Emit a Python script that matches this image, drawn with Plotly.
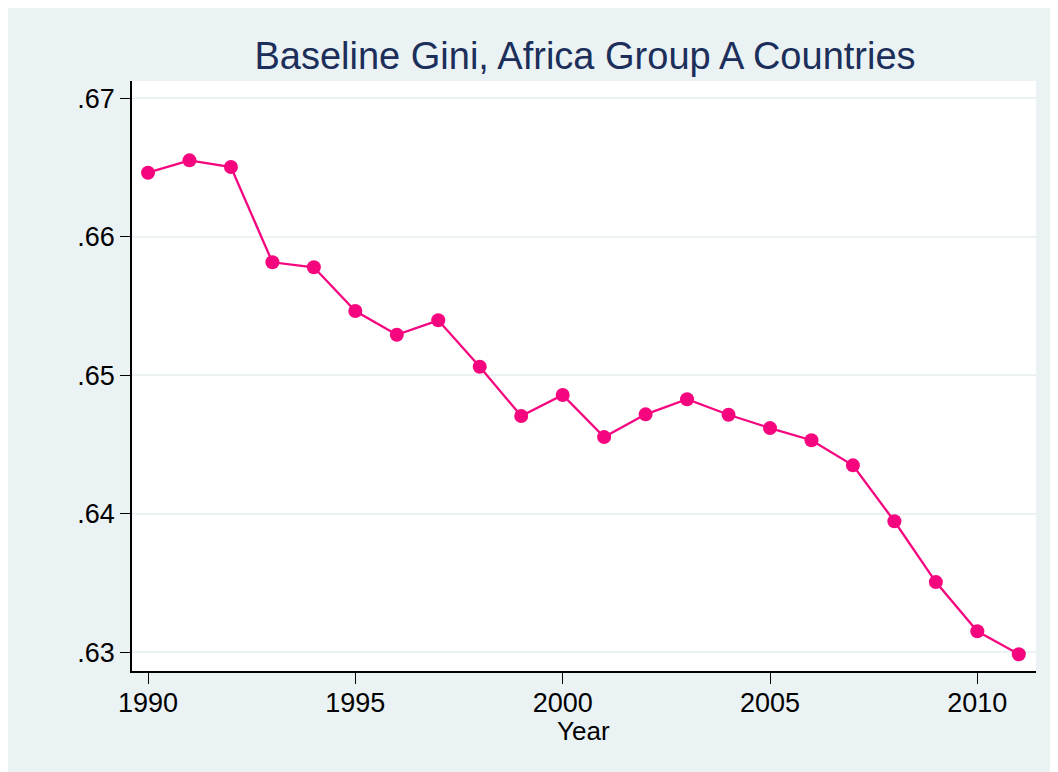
import plotly.graph_objects as go

years = list(range(1990, 2012))
gini = [0.66463, 0.66552, 0.66504, 0.65816, 0.65780, 0.65464, 0.65293, 0.65397,
        0.65062, 0.64706, 0.64858, 0.64554, 0.64718, 0.64827, 0.64715, 0.64619,
        0.64531, 0.64350, 0.63946, 0.63507, 0.63152, 0.62986]
y_ticks = [0.63, 0.64, 0.65, 0.66, 0.67]
y_labels = [".63", ".64", ".65", ".66", ".67"]
x_ticks = [1990, 1995, 2000, 2005, 2010]
title_text = "Baseline Gini, Africa Group A Countries"
x_title = "Year"

W, H = 1058, 772
OFF = 8  # page body margin
L, T = 132 - OFF, 81 - OFF
R = W - (1036 - OFF)
B = H - (671 - OFF)
PW, PH = W - L - R, H - T - B
BG = "#EAF2F3"
FONT = "Liberation Sans, Arial, sans-serif"
PINK = "#F5067E"

def px(x):
    return (x - OFF - L) / PW

def py(y):
    return (H - B - (y - OFF)) / PH

fig = go.Figure()
fig.add_trace(go.Scatter(
    x=years, y=gini, mode="lines+markers",
    line=dict(color=PINK, width=2.3),
    marker=dict(color=PINK, size=14),
    showlegend=False,
))

fig.update_layout(
    width=W, height=H,
    margin=dict(l=L, r=R, t=T, b=B),
    paper_bgcolor=BG, plot_bgcolor="white",
    font=dict(family=FONT, color="black"),
    title=dict(text=title_text, x=(585 - OFF) / W, xanchor="center",
               y=1 - (56 - OFF) / H, yanchor="middle",
               font=dict(size=38, color="#1C2E5A", family=FONT)),
    xaxis=dict(range=[1989.614, 2011.415], tickmode="array", tickvals=x_ticks,
               ticks="outside", ticklen=11, tickwidth=1, tickcolor="black",
               showline=True, linecolor="black", linewidth=1.5, mirror=False,
               showgrid=False, zeroline=False, ticklabelstandoff=-4,
               tickfont=dict(size=27, color="black")),
    yaxis=dict(range=[0.62865, 0.67125], tickmode="array", tickvals=y_ticks,
               ticktext=y_labels,
               ticks="outside", ticklen=10, tickwidth=1, tickcolor="black",
               showline=True, linecolor="black", linewidth=1.5, mirror=False,
               showgrid=True, gridcolor=BG, gridwidth=2, zeroline=False,
               tickfont=dict(size=27, color="black")),
    annotations=[
        dict(text=x_title, xref="paper", yref="paper", x=px(583), y=py(731),
             xanchor="center", yanchor="middle", showarrow=False,
             font=dict(size=26, color="black", family=FONT)),
    ],
)

fig.write_html("out.html")
